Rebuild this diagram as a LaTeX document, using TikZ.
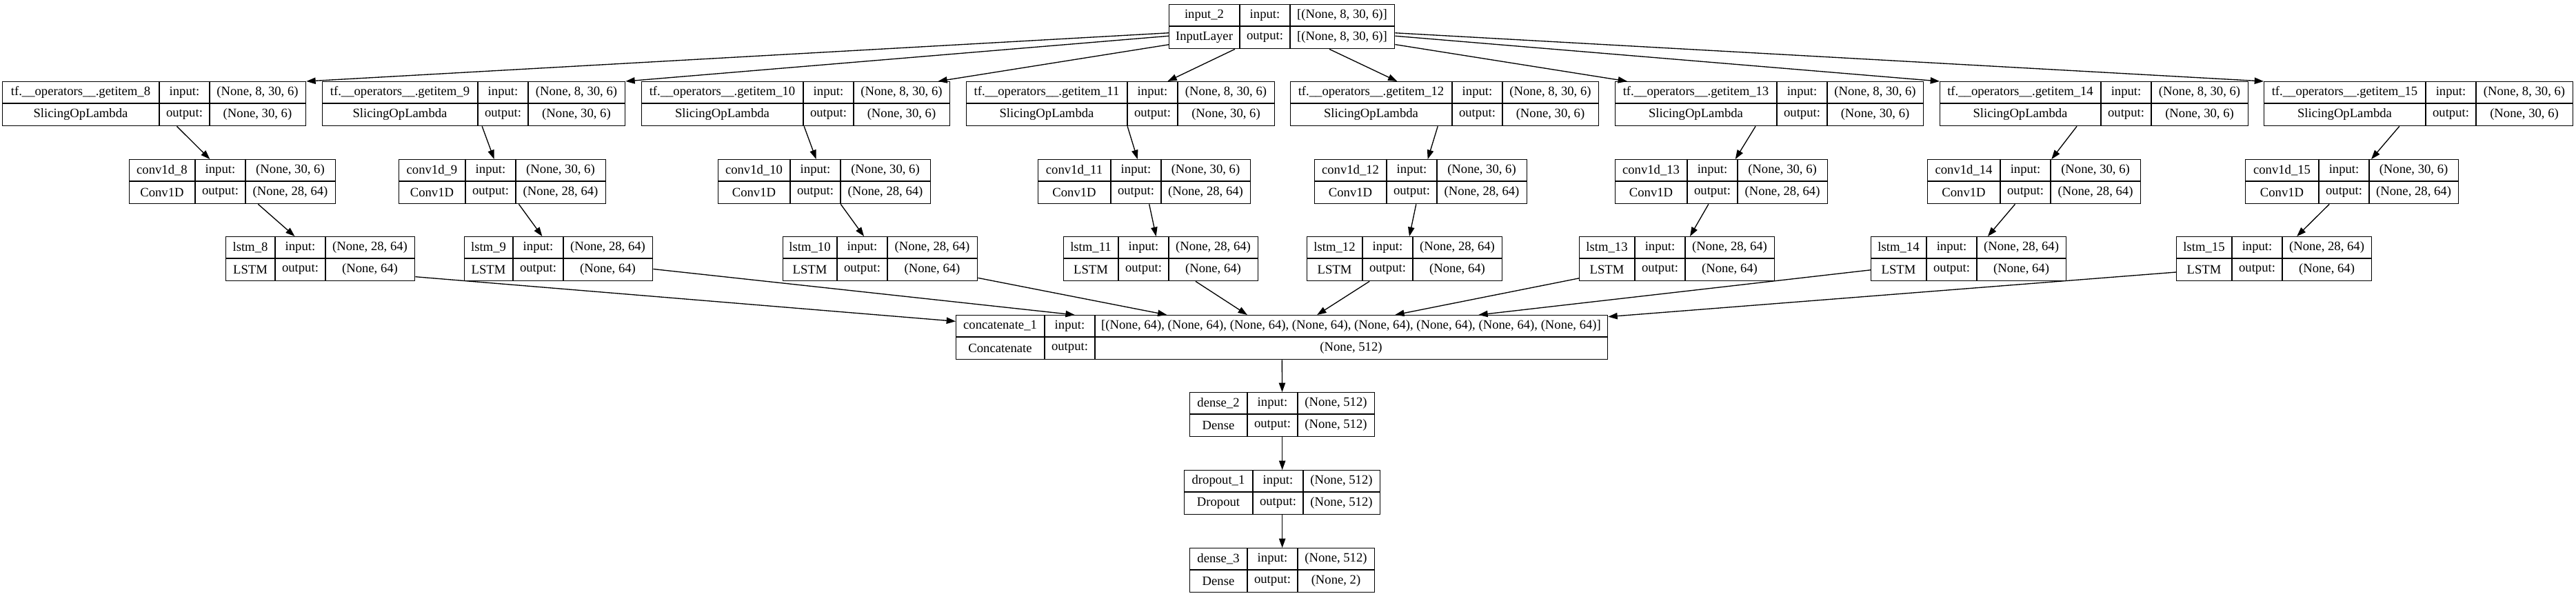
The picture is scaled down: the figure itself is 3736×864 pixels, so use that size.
\documentclass[tikz,border=0pt]{standalone}
\usepackage{fontspec}
\setmainfont{Liberation Serif}
\usetikzlibrary{arrows.meta}
\newcommand{\layerrec}[9]% node, left, split, right, top, name, class, input, output
{\node[rec, minimum width={(#4-#2)*0.75pt}, anchor=north west] (#1) at (#2,#5) {};
\draw (#3,#5) -- (#3,{#5+64}) ({#3+73},#5) -- ({#3+73},{#5+64}) (#2,{#5+32}) -- (#4,{#5+32});
\node (#1-name) at ({(#2+#3)/2},{#5+16}) {#6};
\node (#1-class) at ({(#2+#3)/2},{#5+48}) {#7};
\node (#1-inl) at ({#3+36.5},{#5+16}) {input:};
\node (#1-outl) at ({#3+36.5},{#5+48}) {output:};
\node (#1-ins) at ({(#3+73+#4)/2},{#5+16}) {#8};
\node (#1-outs) at ({(#3+73+#4)/2},{#5+48}) {#9};
}

\begin{document}
\begin{tikzpicture}[x=0.75pt, y=-0.75pt, line width=1pt,
	font=\fontsize{14}{16}\selectfont,
	rec/.style={draw, rectangle, inner sep=0pt, minimum height=48pt},
	arr/.style={-{Triangle[length=10pt,width=7pt]}}]
	\path[fill=white, use as bounding box] (0,0) rectangle (3736,864);
	% input
	\layerrec{in2}{1695}{1798}{2022}{6}{input\_2}{InputLayer}{[(None, 8, 30, 6)]}{[(None, 8, 30, 6)]}
	% slicing
	\layerrec{tf8}{3}{231}{443}{118}{tf.\_\_operators\_\_.getitem\_8}{SlicingOpLambda}{(None, 8, 30, 6)}{(None, 30, 6)}
	\layerrec{tf9}{467}{693}{906}{118}{tf.\_\_operators\_\_.getitem\_9}{SlicingOpLambda}{(None, 8, 30, 6)}{(None, 30, 6)}
	\layerrec{tf10}{930}{1165}{1377}{118}{tf.\_\_operators\_\_.getitem\_10}{SlicingOpLambda}{(None, 8, 30, 6)}{(None, 30, 6)}
	\layerrec{tf11}{1401}{1635}{1848}{118}{tf.\_\_operators\_\_.getitem\_11}{SlicingOpLambda}{(None, 8, 30, 6)}{(None, 30, 6)}
	\layerrec{tf12}{1871}{2106}{2318}{118}{tf.\_\_operators\_\_.getitem\_12}{SlicingOpLambda}{(None, 8, 30, 6)}{(None, 30, 6)}
	\layerrec{tf13}{2342}{2577}{2789}{118}{tf.\_\_operators\_\_.getitem\_13}{SlicingOpLambda}{(None, 8, 30, 6)}{(None, 30, 6)}
	\layerrec{tf14}{2813}{3047}{3260}{118}{tf.\_\_operators\_\_.getitem\_14}{SlicingOpLambda}{(None, 8, 30, 6)}{(None, 30, 6)}
	\layerrec{tf15}{3283}{3518}{3731}{118}{tf.\_\_operators\_\_.getitem\_15}{SlicingOpLambda}{(None, 8, 30, 6)}{(None, 30, 6)}
	% conv
	\layerrec{cv8}{187}{283}{486}{231}{conv1d\_8}{Conv1D}{(None, 30, 6)}{(None, 28, 64)}
	\layerrec{cv9}{578}{675}{878}{231}{conv1d\_9}{Conv1D}{(None, 30, 6)}{(None, 28, 64)}
	\layerrec{cv10}{1041}{1146}{1349}{231}{conv1d\_10}{Conv1D}{(None, 30, 6)}{(None, 28, 64)}
	\layerrec{cv11}{1505}{1611}{1813}{231}{conv1d\_11}{Conv1D}{(None, 30, 6)}{(None, 28, 64)}
	\layerrec{cv12}{1906}{2011}{2214}{231}{conv1d\_12}{Conv1D}{(None, 30, 6)}{(None, 28, 64)}
	\layerrec{cv13}{2342}{2447}{2650}{231}{conv1d\_13}{Conv1D}{(None, 30, 6)}{(None, 28, 64)}
	\layerrec{cv14}{2795}{2901}{3104}{231}{conv1d\_14}{Conv1D}{(None, 30, 6)}{(None, 28, 64)}
	\layerrec{cv15}{3256}{3363}{3565}{231}{conv1d\_15}{Conv1D}{(None, 30, 6)}{(None, 28, 64)}
	% lstm
	\layerrec{ls8}{327}{399}{601}{343}{lstm\_8}{LSTM}{(None, 28, 64)}{(None, 64)}
	\layerrec{ls9}{673}{744}{946}{343}{lstm\_9}{LSTM}{(None, 28, 64)}{(None, 64)}
	\layerrec{ls10}{1135}{1214}{1417}{343}{lstm\_10}{LSTM}{(None, 28, 64)}{(None, 64)}
	\layerrec{ls11}{1542}{1622}{1824}{343}{lstm\_11}{LSTM}{(None, 28, 64)}{(None, 64)}
	\layerrec{ls12}{1895}{1976}{2178}{343}{lstm\_12}{LSTM}{(None, 28, 64)}{(None, 64)}
	\layerrec{ls13}{2290}{2371}{2573}{343}{lstm\_13}{LSTM}{(None, 28, 64)}{(None, 64)}
	\layerrec{ls14}{2713}{2794}{2996}{343}{lstm\_14}{LSTM}{(None, 28, 64)}{(None, 64)}
	\layerrec{ls15}{3156}{3237}{3439}{343}{lstm\_15}{LSTM}{(None, 28, 64)}{(None, 64)}
	% head
	\layerrec{cat}{1386}{1515}{2331}{457}{concatenate\_1}{Concatenate}{[(None, 64), (None, 64), (None, 64), (None, 64), (None, 64), (None, 64), (None, 64), (None, 64)]}{(None, 512)}
	\layerrec{d2}{1725}{1809}{1993}{569}{dense\_2}{Dense}{(None, 512)}{(None, 512)}
	\layerrec{dr1}{1717}{1817}{2001}{682}{dropout\_1}{Dropout}{(None, 512)}{(None, 512)}
	\layerrec{d3}{1725}{1809}{1993}{795}{dense\_3}{Dense}{(None, 512)}{(None, 2)}
	% edges
	\draw[arr] (in2) -- (tf8.north east);
	\draw[arr] (in2) -- (tf9.north east);
	\draw[arr] (in2) -- ([xshift=-13.5pt]tf10.north east);
	\draw[arr] (in2) -- (tf11);
	\draw[arr] (in2) -- (tf12);
	\draw[arr] (in2) -- ([xshift=13.5pt]tf13.north west);
	\draw[arr] (in2) -- (tf14.north west);
	\draw[arr] (in2) -- (tf15.north west);
	\draw[arr] (tf8) -- (cv8);
	\draw[arr] (tf9) -- (cv9);
	\draw[arr] (tf10) -- (cv10);
	\draw[arr] (tf11) -- (cv11);
	\draw[arr] (tf12) -- (cv12);
	\draw[arr] (tf13) -- (cv13);
	\draw[arr] (tf14) -- (cv14);
	\draw[arr] (tf15) -- (cv15);
	\draw[arr] (cv8) -- (ls8);
	\draw[arr] (cv9) -- (ls9);
	\draw[arr] (cv10) -- (ls10);
	\draw[arr] (cv11) -- (ls11);
	\draw[arr] (cv12) -- (ls12);
	\draw[arr] (cv13) -- (ls13);
	\draw[arr] (cv14) -- (ls14);
	\draw[arr] (cv15) -- (ls15);
	\draw[arr] ([yshift=5pt]ls8.south east) -- ([yshift=-7pt]cat.north west);
	\draw[arr] (ls9) -- (cat);
	\draw[arr] (ls10) -- (cat);
	\draw[arr] (ls11) -- (cat);
	\draw[arr] (ls12) -- (cat);
	\draw[arr] (ls13) -- (cat);
	\draw[arr] (ls14) -- (cat);
	\draw[arr] ([yshift=10pt]ls15.south west) -- ([yshift=-2pt]cat.north east);
	\draw[arr] (cat) -- (d2);
	\draw[arr] (d2) -- (dr1);
	\draw[arr] (dr1) -- (d3);
\end{tikzpicture}
\end{document}
